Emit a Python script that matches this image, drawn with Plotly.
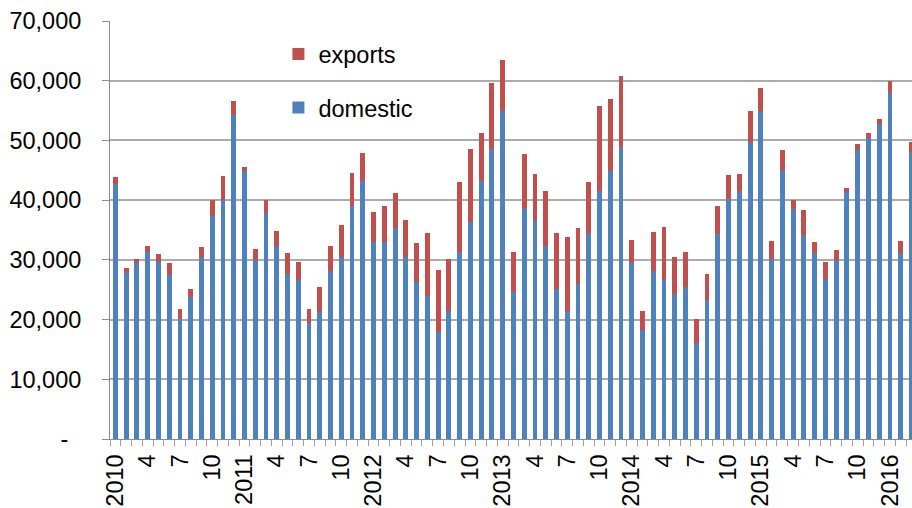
import plotly.graph_objects as go

# Monthly periods, Jan 2010 .. Mar 2016
months = [f"{y}-{m:02d}" for y in range(2010, 2017) for m in range(1, 13)][:75]

domestic = [
    42700, 27800, 29500, 31300, 29700, 27400, 20100, 23800, 30500, 37400, 40100, 54200,  # 2010
    44800, 30000, 37900, 32400, 27700, 26700, 19400, 21300, 28200, 30400, 39000, 43200,  # 2011
    33000, 33000, 35400, 30400, 26300, 24000, 17900, 21500, 31400, 36400, 43200, 48600,  # 2012
    55000, 24600, 38700, 36700, 32400, 25200, 21400, 26000, 34500, 41500, 44900, 48900,  # 2013
    29700, 18200, 28200, 26600, 24300, 25500, 16000, 23200, 34300, 40200, 41500, 49800,  # 2014
    55000, 30100, 44900, 38500, 34200, 31100, 26800, 30000, 41400, 48400, 50400, 52800,  # 2015
    58000, 31200, 48100,                                                                  # 2016
]

exports = [
    1200, 900, 700, 1100, 1300, 2000, 1600, 1400, 1700, 2600, 4000, 2400,          # 2010
    800, 1800, 2200, 2400, 3400, 2900, 2400, 4200, 4100, 5500, 5500, 4700,         # 2011
    5000, 6100, 5800, 6200, 6500, 10500, 10400, 8600, 11600, 12100, 8000, 11000,   # 2012
    8400, 6800, 9100, 7700, 9100, 9300, 12400, 9300, 8500, 14200, 12100, 11900,    # 2013
    3700, 3200, 6500, 8900, 6200, 5800, 4100, 4400, 4700, 4000, 2900, 5100,        # 2014
    3800, 3000, 3500, 1600, 4200, 1900, 2800, 1700, 700, 1000, 900, 800,           # 2015
    2000, 2000, 1700,                                                              # 2016
]

# x-axis tick labels (shown at Jan/Apr/Jul/Oct)
tick_months = [m for m in months if m[5:] in ("01", "04", "07", "10")]
tick_labels = [m[:4] if m[5:] == "01" else str(int(m[5:])) for m in tick_months]

# y-axis tick labels
y_tickvals = [0, 10000, 20000, 30000, 40000, 50000, 60000, 70000]
y_ticktext = ["-\u00a0\u00a0", "10,000", "20,000", "30,000", "40,000", "50,000", "60,000", "70,000"]

x = list(range(len(months)))
tick_pos = [months.index(m) for m in tick_months]

FONT = "Arial, Liberation Sans, sans-serif"

fig = go.Figure()
fig.add_trace(go.Bar(x=x, y=domestic, name="domestic", legendgroup="d", legendrank=2,
                     marker=dict(color="#4F81BD", line=dict(width=0))))
fig.add_trace(go.Bar(x=x, y=exports, name="exports", legendgroup="e", legendrank=1,
                     marker=dict(color="#C0504D", line=dict(width=0))))

fig.update_layout(
    width=912, height=508,
    margin=dict(l=110, r=0, t=21, b=69, pad=0, autoexpand=False),
    barmode="stack", bargap=0.55,
    plot_bgcolor="white", paper_bgcolor="white",
    font=dict(family=FONT, size=23.5, color="#000000"),
    showlegend=True,
    legend=dict(
        x=0.21, y=0.973, xanchor="left", yanchor="top",
        traceorder="grouped", tracegroupgap=20,
        bgcolor="rgba(0,0,0,0)", borderwidth=0,
        font=dict(family=FONT, size=23.5, color="#000000"),
    ),
    xaxis=dict(
        range=[-0.5, 74.05], showgrid=False, zeroline=False, automargin=False,
        showline=True, linecolor="#8c8c8c", linewidth=1,
        tickmode="array", tickvals=tick_pos, ticktext=tick_labels,
        tickangle=-90, ticks="", ticklabelstandoff=5,
        tickfont=dict(family=FONT, size=23.5, color="#000000"),
        minor=dict(tickmode="linear", tick0=0.5, dtick=1, ticks="outside",
                   ticklen=6, tickcolor="#a0a0a0", tickwidth=1, showgrid=False),
    ),
    yaxis=dict(
        range=[0, 70000], tickmode="array", tickvals=y_tickvals, ticktext=y_ticktext,
        showgrid=True, gridcolor="#ababab", gridwidth=1.5, automargin=False,
        zeroline=False, showline=True, linecolor="#8c8c8c", linewidth=1,
        ticks="outside", ticklen=7, tickcolor="#8c8c8c",
        tickfont=dict(family=FONT, size=23.5, color="#000000"),
        ticklabelstandoff=16,
    ),
)

# remove the default 8px page-body margin so the 912x508 figure fills the window
fig.write_html("out.html", config={"displayModeBar": False},
               post_script="document.body.style.margin='0px';")
